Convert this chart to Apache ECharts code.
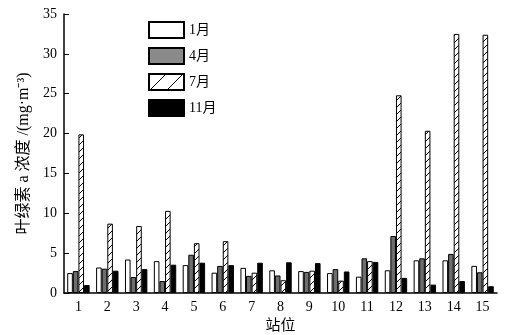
<!DOCTYPE html>
<html>
<head>
<meta charset="utf-8">
<script src="https://cdn.jsdelivr.net/npm/echarts@6/dist/echarts.min.js"></script>
<style>
html, body { margin: 0; padding: 0; background: #fff; }
#chart { width: 528px; height: 335px; }
</style>
</head>
<body>
<div id="chart"></div>
<script>
// 站位与各月叶绿素a浓度
var stations = ['1', '2', '3', '4', '5', '6', '7', '8', '9', '10', '11', '12', '13', '14', '15'];
var jan = [2.5, 3.2, 4.2, 4.0, 3.5, 2.55, 3.15, 2.85, 2.75, 2.5, 2.05, 2.85, 4.1, 4.1, 3.4];
var apr = [2.75, 3.05, 2.0, 1.5, 4.8, 3.4, 2.15, 2.2, 2.65, 3.0, 4.35, 7.15, 4.35, 4.9, 2.6];
var jul = [19.9, 8.7, 8.4, 10.3, 6.25, 6.5, 2.55, 1.6, 2.8, 1.55, 4.0, 24.8, 20.35, 32.5, 32.4];
var nov = [1.0, 2.8, 3.0, 3.55, 3.8, 3.5, 3.8, 3.85, 3.75, 2.7, 3.9, 1.9, 1.05, 1.5, 0.85];
var yTicks = [0, 5, 10, 15, 20, 25, 30, 35];

var fontFamily = '"Liberation Serif", "Noto Sans CJK SC", serif';

// 斜线填充
function hatch(size) {
    var c = document.createElement('canvas');
    c.width = size;
    c.height = size;
    var ctx = c.getContext('2d');
    ctx.fillStyle = '#fff';
    ctx.fillRect(0, 0, size, size);
    ctx.strokeStyle = '#000';
    ctx.lineWidth = 1;
    ctx.beginPath();
    ctx.moveTo(-1, size + 1);
    ctx.lineTo(size + 1, -1);
    ctx.moveTo(-1, 1);
    ctx.lineTo(1, -1);
    ctx.moveTo(size - 1, size + 1);
    ctx.lineTo(size + 1, size - 1);
    ctx.stroke();
    return c;
}

var chart = echarts.init(document.getElementById('chart'));

function barSeries(name, data, color) {
    return {
        name: name,
        type: 'bar',
        data: data,
        barWidth: 5.6,
        barGap: 0,
        itemStyle: { color: color, borderColor: '#000', borderWidth: 1 }
    };
}

var option = {
    animation: false,
    backgroundColor: '#fff',
    textStyle: { fontFamily: fontFamily },
    grid: { left: 64, right: 31, top: 14, bottom: 42, outerBoundsMode: 'none' },
    legend: {
        orient: 'vertical',
        left: 143,
        top: 16,
        icon: 'rect',
        itemWidth: 35,
        itemHeight: 16,
        itemGap: 8,
        textStyle: { fontSize: 14, color: '#000', fontFamily: fontFamily },
        data: [
            { name: '1月', icon: 'rect' },
            { name: '4月', icon: 'rect', itemStyle: { color: '#8a8a8a' } },
            { name: '7月', icon: 'rect', itemStyle: { color: { image: hatch(17), repeat: 'repeat' } } },
            { name: '11月', icon: 'rect' }
        ]
    },
    xAxis: {
        type: 'category',
        data: stations,
        name: '站位',
        nameLocation: 'middle',
        nameGap: 25,
        nameTextStyle: { fontSize: 15, color: '#000', fontFamily: fontFamily },
        axisLine: { lineStyle: { color: '#000', width: 1.5 } },
        axisTick: { show: false },
        axisLabel: { fontSize: 14, color: '#000', margin: 7 }
    },
    yAxis: {
        type: 'value',
        min: 0,
        max: 35,
        interval: 5,
        name: '叶绿素 a 浓度 /(mg·m⁻³)',
        nameLocation: 'middle',
        nameGap: 26,
        nameTextStyle: { fontSize: 16, color: '#000', fontFamily: fontFamily },
        axisLine: { show: true, lineStyle: { color: '#000', width: 1.5 } },
        axisTick: { show: true, inside: true, length: 5, lineStyle: { color: '#000' } },
        axisLabel: {
            fontSize: 14, color: '#000', margin: 7,
            formatter: function (v) { return yTicks.indexOf(v) >= 0 ? String(v) : ''; }
        },
        splitLine: { show: false }
    },
    series: [
        barSeries('1月', jan, '#fff'),
        barSeries('4月', apr, '#6e6e6e'),
        barSeries('7月', jul, { image: hatch(7), repeat: 'repeat' }),
        barSeries('11月', nov, '#000')
    ]
};

chart.setOption(option);
</script>
</body>
</html>
